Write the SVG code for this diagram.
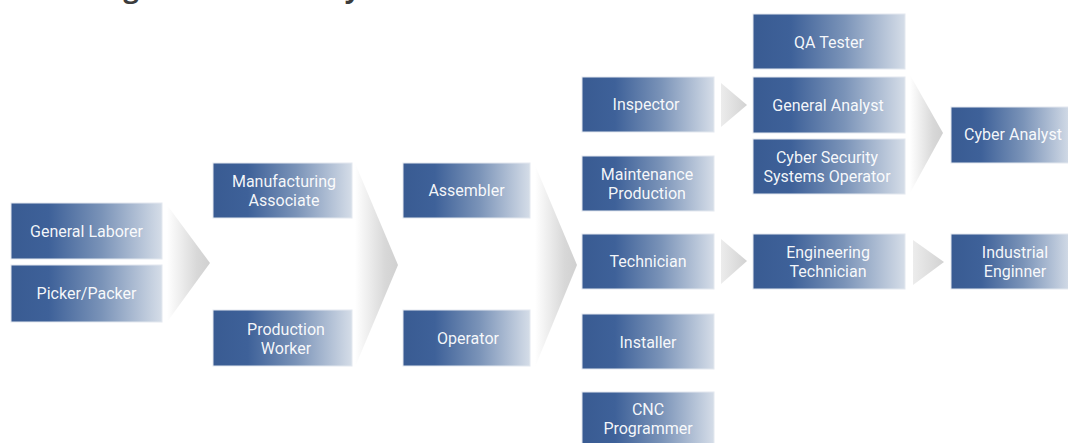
<svg xmlns="http://www.w3.org/2000/svg" width="1068" height="443" viewBox="0 0 1068 443">
  <defs>
    <linearGradient id="boxGrad" x1="0" y1="0" x2="1" y2="0">
      <stop offset="0" stop-color="#395b92"/>
      <stop offset="0.25" stop-color="#3e6199"/>
      <stop offset="0.6" stop-color="#7a93b8"/>
      <stop offset="1" stop-color="#d5dde8"/>
    </linearGradient>
    <linearGradient id="chevGrad" x1="0" y1="0" x2="1" y2="0">
      <stop offset="0" stop-color="#ffffff"/>
      <stop offset="0.7" stop-color="#d8d8d8"/>
      <stop offset="1" stop-color="#d0d0d0"/>
    </linearGradient>
    <linearGradient id="arrowGrad" x1="0" y1="0" x2="1" y2="0">
      <stop offset="0" stop-color="#ececec"/>
      <stop offset="1" stop-color="#d2d2d2"/>
    </linearGradient>
    <style>
      .box { fill: url(#boxGrad); stroke: #e3e8ef; stroke-width: 1; }
      .lbl { font-family: Roboto, "Liberation Sans", sans-serif; font-size: 16px; fill: #ffffff; fill-opacity: 0.95; text-anchor: middle; }
      .chev { fill: url(#chevGrad); }
      .arr { fill: url(#arrowGrad); }
      .title { font-family: "Open Sans", "Liberation Sans", sans-serif; font-weight: bold; font-size: 27px; fill: #3c3c3c; }
    </style>
  </defs>
  <rect width="1068" height="443" fill="#ffffff"/>
  <text class="title" x="28" y="-2.5">Building Career Pathways</text>

  <g id="connectors">
    <polygon class="chev" points="167,205 210,263 167,322"/>
    <polygon class="chev" points="355,163 398,265 355,367"/>
    <polygon class="chev" points="535,165 577,265 535,367"/>
    <polygon class="arr" points="721,83 747,105 721,127"/>
    <polygon class="arr" points="721,239 747,261 721,284"/>
    <polygon class="arr" points="913,240 944,262 913,285"/>
    <polygon class="chev" points="910,75 943,133 910,193"/>
  </g>

  <g id="general-laborer"><rect class="box" x="11" y="203" width="151" height="56"/><text class="lbl" x="86.5" y="236.5">General Laborer</text></g>
  <g id="picker-packer"><rect class="box" x="11" y="265" width="151" height="57"/><text class="lbl" x="86.5" y="299">Picker/Packer</text></g>
  <g id="manufacturing-associate"><rect class="box" x="213" y="163" width="139" height="55"/><text class="lbl" x="284" y="187">Manufacturing</text><text class="lbl" x="284" y="206">Associate</text></g>
  <g id="production-worker"><rect class="box" x="213" y="310" width="139" height="56"/><text class="lbl" x="286" y="334.5">Production</text><text class="lbl" x="286" y="353.5">Worker</text></g>
  <g id="assembler"><rect class="box" x="403" y="163" width="127" height="55"/><text class="lbl" x="466.5" y="196">Assembler</text></g>
  <g id="operator"><rect class="box" x="403" y="310" width="127" height="56"/><text class="lbl" x="468" y="343.5">Operator</text></g>
  <g id="inspector"><rect class="box" x="582" y="77" width="132" height="55"/><text class="lbl" x="646" y="110">Inspector</text></g>
  <g id="maintenance-production"><rect class="box" x="582" y="156" width="132" height="55"/><text class="lbl" x="647" y="180">Maintenance</text><text class="lbl" x="647" y="199">Production</text></g>
  <g id="technician"><rect class="box" x="582" y="234" width="132" height="55"/><text class="lbl" x="648" y="267">Technician</text></g>
  <g id="installer"><rect class="box" x="582" y="314" width="132" height="55"/><text class="lbl" x="648" y="347.5">Installer</text></g>
  <g id="cnc-programmer"><rect class="box" x="582" y="392" width="132" height="56"/><text class="lbl" x="648" y="415">CNC</text><text class="lbl" x="648" y="434">Programmer</text></g>
  <g id="qa-tester"><rect class="box" x="753" y="14" width="152" height="55"/><text class="lbl" x="829" y="47.5">QA Tester</text></g>
  <g id="general-analyst"><rect class="box" x="753" y="77" width="152" height="56"/><text class="lbl" x="828" y="110.5">General Analyst</text></g>
  <g id="cyber-security-systems-operator"><rect class="box" x="753" y="139" width="152" height="55"/><text class="lbl" x="827" y="163">Cyber Security</text><text class="lbl" x="827" y="182">Systems Operator</text></g>
  <g id="engineering-technician"><rect class="box" x="753" y="234" width="152" height="55"/><text class="lbl" x="828" y="258">Engineering</text><text class="lbl" x="828" y="277">Technician</text></g>
  <g id="cyber-analyst"><rect class="box" x="951" y="107" width="120" height="56"/><text class="lbl" x="1013" y="140">Cyber Analyst</text></g>
  <g id="industrial-enginner"><rect class="box" x="951" y="234" width="120" height="55"/><text class="lbl" x="1015" y="258">Industrial</text><text class="lbl" x="1015" y="277">Enginner</text></g>
</svg>
